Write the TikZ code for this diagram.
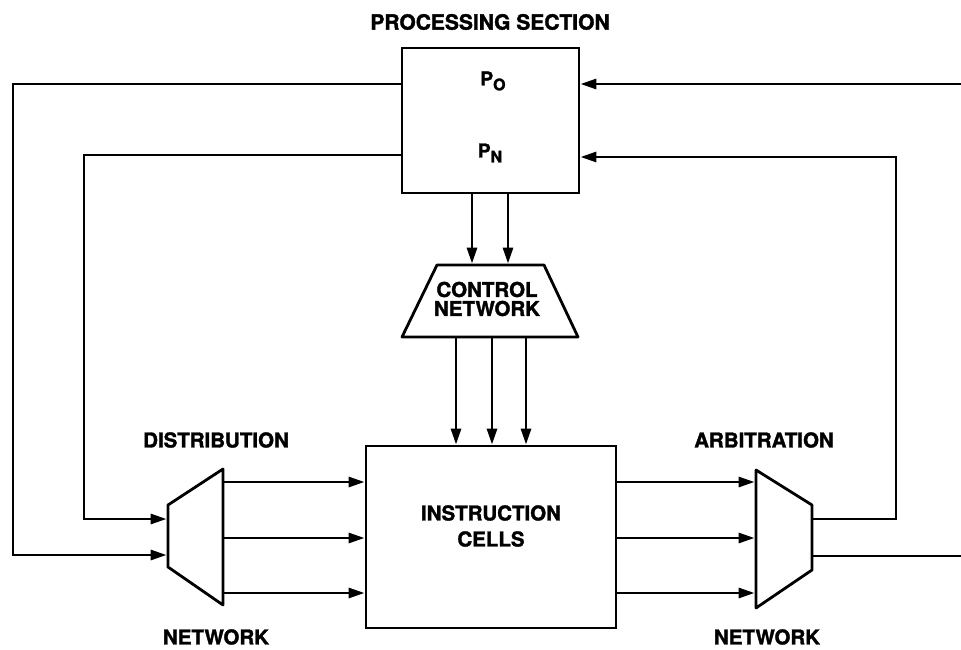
\documentclass[tikz,border=0pt]{standalone}
\usepackage{fontspec}
\setmainfont{TeX Gyre Heros}[BoldFeatures={FakeBold=1.6}]
\usetikzlibrary{arrows.meta,calc}
\newcommand{\subtxt}[1]{\raisebox{-5pt}{\fontsize{16}{16}\selectfont\bfseries #1}}
\begin{document}
\begin{tikzpicture}[x=1pt,y=-1pt,
  line width=2.8pt,
  box/.style={draw, inner sep=0pt},
  ghost/.style={inner sep=0pt},
  lbl/.style={font=\fontsize{20.5}{22}\selectfont\bfseries, inner sep=0pt, align=center},
  arr/.style={-{Triangle[length=16pt,width=10pt]}},
  wire/.style={line join=miter}
]
\useasboundingbox (0,0) rectangle (961,650);

% title
\node[lbl, font=\fontsize{21}{23}\selectfont\bfseries] (title) at (490,22) {PROCESSING SECTION};

% processing section box
\node[box, minimum width=177pt, minimum height=145pt] (proc) at (490.5,120.5) {};
\node[inner sep=0pt, font=\fontsize{19}{21}\selectfont\bfseries] (po) at (493,81) {P\subtxt{O}};
\node[inner sep=0pt, font=\fontsize{19}{21}\selectfont\bfseries] (pn) at (490,153) {P\subtxt{N}};

% control network (trapezoid)
\node[ghost, minimum width=176pt, minimum height=72pt] (ctrl) at (490,301) {};
\draw[line join=round] (437,265) -- (544,265) -- (578,337) -- (402,337) -- cycle;
\node[lbl] (ctrltxt) at (487,299) {CONTROL\\[-3pt]NETWORK};

% instruction cells
\node[box, minimum width=250pt, minimum height=182pt] (ic) at (491,537) {};
\node[lbl] (ictxt) at (491,526) {INSTRUCTION\\[4pt]CELLS};

% distribution network
\node[ghost, minimum width=55pt, minimum height=136pt] (dist) at (195.5,537) {};
\draw[line join=round] (168,505) -- (223,469) -- (223,605) -- (168,567) -- cycle;
\node[lbl] (distt) at (216,440) {DISTRIBUTION};
\node[lbl] (distb) at (216,637) {NETWORK};

% arbitration network
\node[ghost, minimum width=56pt, minimum height=138pt] (arb) at (784,539) {};
\draw[line join=round] (756,470) -- (812,505) -- (812,570) -- (756,608) -- cycle;
\node[lbl] (arbt) at (764,440) {ARBITRATION};
\node[lbl] (arbb) at (767,637) {NETWORK};

% processing -> control
\draw[arr] (proc.south -| 472,0) -- (ctrl.north -| 472,0);
\draw[arr] (proc.south -| 508,0) -- (ctrl.north -| 508,0);

% control -> instruction cells
\foreach \xx in {456,492,526}
  \draw[arr] (ctrl.south -| \xx,0) -- (ic.north -| \xx,0);

% distribution -> instruction cells, instruction cells -> arbitration
\foreach \yy in {482,538,593} {
  \draw[arr] (dist.east |- 0,\yy) -- (ic.west |- 0,\yy);
  \draw[arr] (ic.east |- 0,\yy) -- (arb.west |- 0,\yy);
}

% feedback loops on the left
\draw[arr, wire] (proc.west |- 0,84) -- (13,84) -- (13,555) -- (dist.west |- 0,555);
\draw[arr, wire] (proc.west |- 0,155) -- (84,155) -- (84,519) -- (dist.west |- 0,519);

% loops on the right
\coordinate (rtop) at (961,84);
\coordinate (rbot) at (961,556);
\draw[arr] (rtop) -- (proc.east |- rtop);
\draw[arr, wire] (arb.east |- 0,519) -- (896,519) -- (896,157) -- (proc.east |- 0,157);
\draw (arb.east |- rbot) -- (rbot);
\end{tikzpicture}
\end{document}
